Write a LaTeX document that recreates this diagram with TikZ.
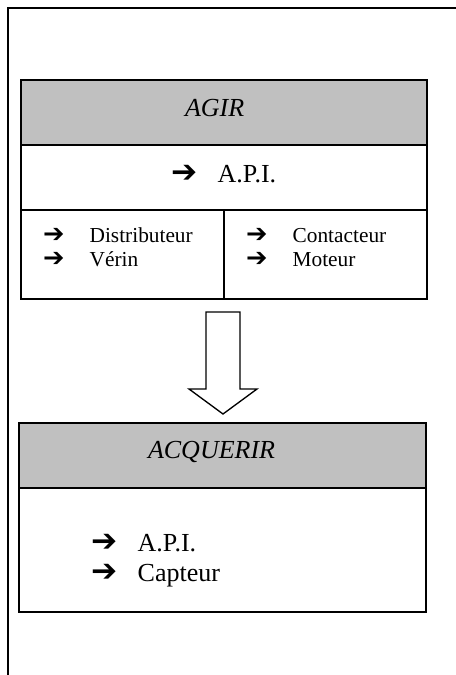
\documentclass[tikz,border=0pt]{standalone}
\usepackage{fontspec}
\setmainfont{Liberation Serif}
\newfontfamily\symfont{DejaVu Sans Bold}
\usetikzlibrary{positioning}
\definecolor{titlegray}{RGB}{192,192,192}
\newcommand{\pointer}{\makebox[35pt][l]{\scalebox{1.2}{\symfont\char"2794}}}
\begin{document}
\begin{tikzpicture}[x=0.75pt,y=-0.75pt,inner sep=0pt,outer sep=0pt,line width=1pt,
titlebar/.style={draw,fill=titlegray,minimum height=48.75pt,anchor=north west},
cellbox/.style={draw,anchor=north west},
bigtext/.style={font=\fontsize{19.5}{23}\selectfont,anchor=base west},
smalltext/.style={font=\fontsize{16}{19}\selectfont,anchor=base west}]
\useasboundingbox (0,0) rectangle (456,675);
\draw[line width=0.8pt] (8,675) -- (8,8) -- (456,8);
% upper block
\node[titlebar,minimum width=304.5pt] (agir) at (21,80) {};
\node[cellbox,minimum width=304.5pt,minimum height=48.75pt] (api) at (agir.south west) {};
\node[cellbox,minimum width=152.25pt,minimum height=66.75pt] (dist) at (api.south west) {};
\node[cellbox,minimum width=152.25pt,minimum height=66.75pt] (cont) at (dist.north east) {};
\node[bigtext,font=\fontsize{19.5}{23}\selectfont\itshape] (agirt) at (185,116) {AGIR};
\node[bigtext] (apit) at (171,182) {\pointer A.P.I.};
\node[smalltext] (distt) at (43,242) {\pointer Distributeur};
\node[smalltext] (verint) at (43,266) {\pointer Vérin};
\node[smalltext] (contt) at (246,242) {\pointer Contacteur};
\node[smalltext] (motet) at (246,266) {\pointer Moteur};
% hollow arrow
\draw (206,312) -- (240,312) -- (240,389) -- (257,389) -- (223,414) -- (189,389) -- (206,389) -- cycle;
% lower block
\node[titlebar,minimum width=305.25pt] (acq) at (19,423) {};
\node[cellbox,minimum width=305.25pt,minimum height=93pt] (capt) at (acq.south west) {};
\node[bigtext,font=\fontsize{19.5}{23}\selectfont\itshape] (acqt) at (148,458) {ACQUERIR};
\node[bigtext] (api2t) at (91,551) {\pointer A.P.I.};
\node[bigtext] (captt) at (91,581) {\pointer Capteur};
\end{tikzpicture}
\end{document}
